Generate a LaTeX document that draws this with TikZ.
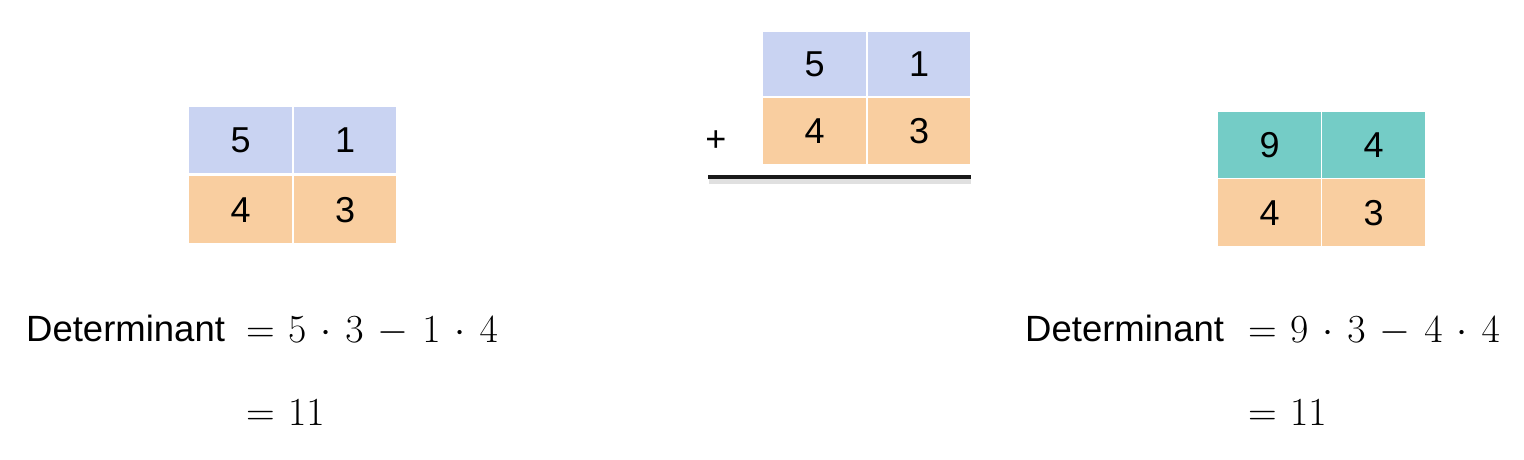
\documentclass[tikz,border=0pt]{standalone}
\usepackage{graphicx}
\usepackage{fontspec}
\newfontfamily\arialf{Liberation Sans}
\newcommand{\bigeq}[1]{\scalebox{1.6}{$\medmuskip=6.3mu\thickmuskip=6mu #1$}}
\tikzset{
  cell/.style={rectangle, anchor=north west, inner sep=0pt, minimum width=103pt, minimum height=66pt, font=\arialf\fontsize{36}{40}\selectfont, text=black},
  blu/.style={cell, fill=cblue},
  ora/.style={cell, fill=corange},
  tea/.style={cell, fill=cteal},
  lbl/.style={anchor=base west, inner sep=0pt, font=\arialf\fontsize{36.5}{40}\selectfont},
  eqn/.style={anchor=base west, inner sep=0pt, font=\fontsize{24.88}{30}\selectfont},
}
\definecolor{cblue}{RGB}{201,211,242}
\definecolor{corange}{RGB}{249,206,160}
\definecolor{cteal}{RGB}{116,204,198}
\begin{document}
\begin{tikzpicture}[x=1pt,y=-1pt]
\useasboundingbox[fill=white] (0,0) rectangle (1524,460);
% left matrix
\node[blu] (l11) at (189,107) {5};
\node[blu, minimum width=102pt] (l12) at (294,107) {1};
\node[ora, minimum height=67pt] (l21) at (189,176) {4};
\node[ora, minimum width=102pt, minimum height=67pt] (l22) at (294,176) {3};
% center matrix
\node[blu, minimum height=64pt] (c11) at (763,32) {5};
\node[blu, minimum width=102pt, minimum height=64pt] (c12) at (868,32) {1};
\node[ora] (c21) at (763,98) {4};
\node[ora, minimum width=102pt] (c22) at (868,98) {3};
\node[anchor=center, inner sep=0pt, font=\arialf\fontsize{36}{40}\selectfont] (plus) at (716,141) {+};
\coordinate (s1) at (709,181);
\coordinate (s2) at (971,181);
\coordinate (u1) at (708,177);
\coordinate (u2) at (971,177);
\draw[line width=6pt, black!12] (s1) -- (s2);
\draw[line width=4pt, black!90] (u1) -- (u2);
% right matrix
\node[tea, minimum height=66pt] (r11) at (1218,112) {9};
\node[tea, minimum width=103pt, minimum height=66pt] (r12) at (1322,112) {4};
\node[ora, minimum height=67pt] (r21) at (1218,179) {4};
\node[ora, minimum width=103pt, minimum height=67pt] (r22) at (1322,179) {3};
% left equations
\node[lbl] (ldet) at (26,341) {Determinant};
\node[eqn] (leq1) at (246,342) {\bigeq{=5\cdot3-1\cdot4}};
\node[eqn] (leq2) at (246,425) {\bigeq{=11}};
% right equations
\node[lbl] (rdet) at (1025,341) {Determinant};
\node[eqn] (req1) at (1248,342) {\bigeq{=9\cdot3-4\cdot4}};
\node[eqn] (req2) at (1248,425) {\bigeq{=11}};
\end{tikzpicture}
\end{document}
